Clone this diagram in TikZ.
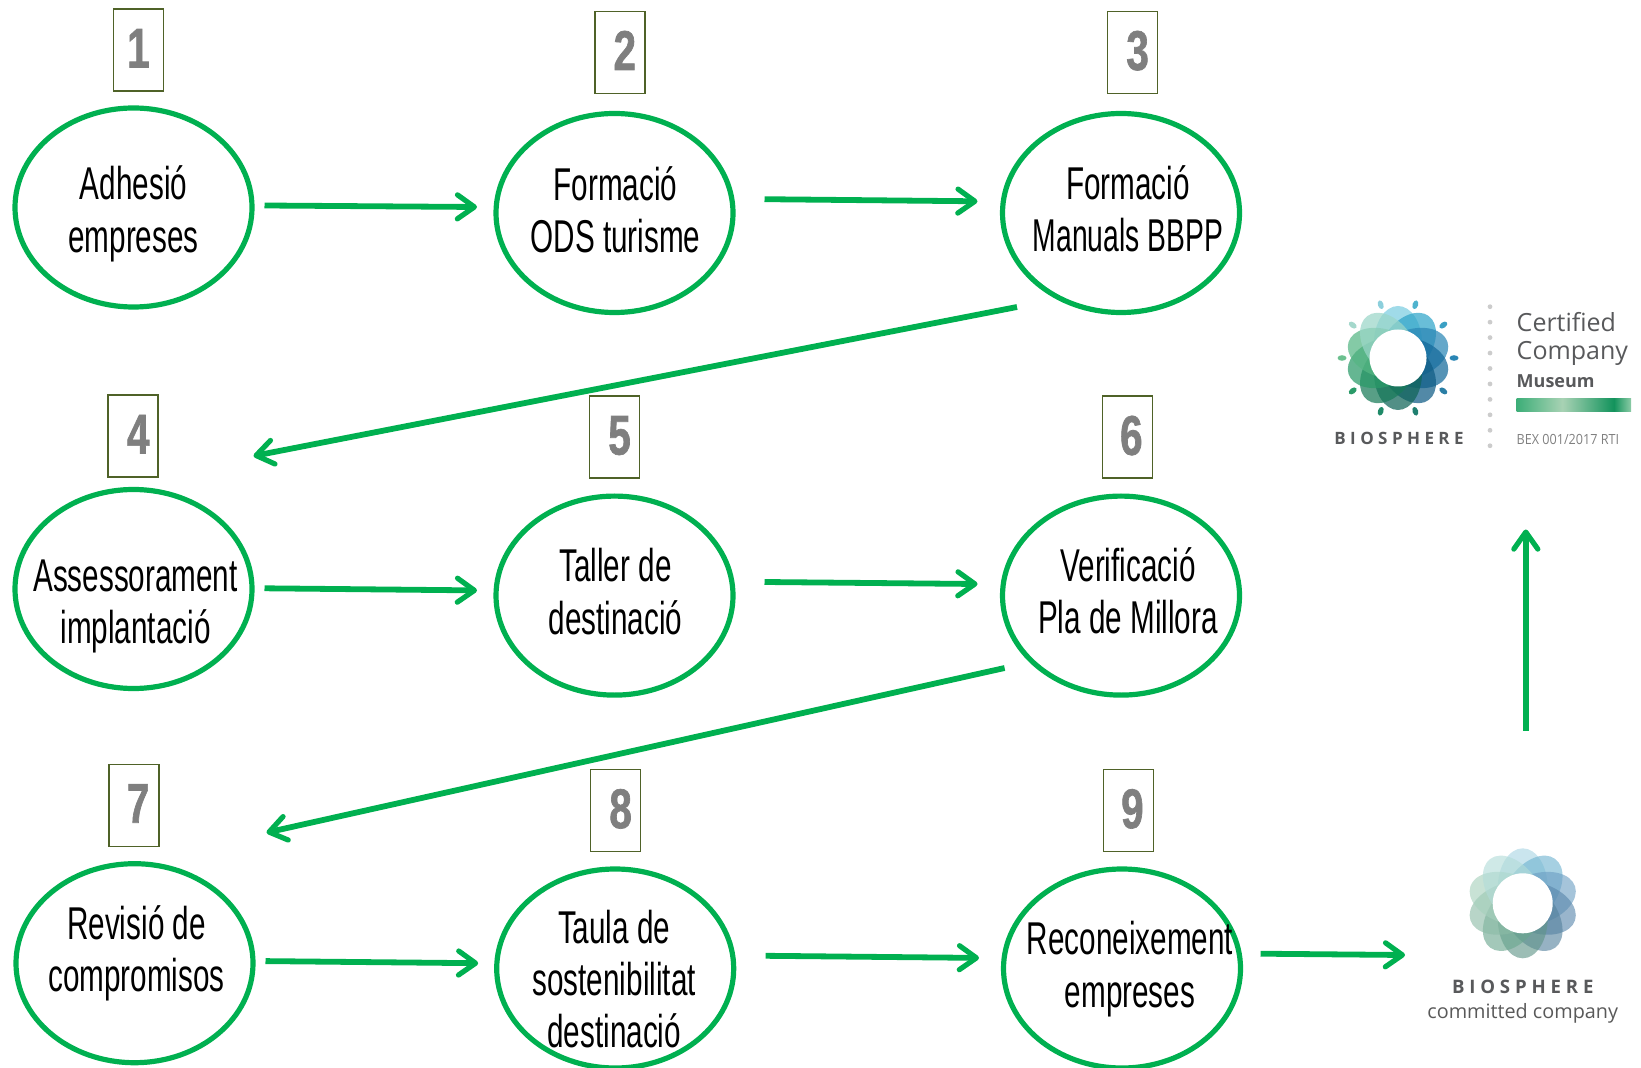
\documentclass[tikz,border=0pt]{standalone}
\usepackage{fontspec}
\usetikzlibrary{arrows.meta,shapes.geometric,calc}
\setmainfont{Liberation Sans}
\newfontfamily\condf[FakeStretch=0.645]{Liberation Sans}
\newfontfamily\manf[FakeStretch=0.615]{Liberation Sans}
\newfontfamily\digitf[FakeStretch=0.72,FakeBold=1.2]{Liberation Sans}
\newfontfamily\logof{Open Sans}
\newfontfamily\biof[LetterSpace=26]{Open Sans}
\newfontfamily\bexf[FakeStretch=0.9]{Open Sans}
\definecolor{grn}{HTML}{00B050}
\definecolor{olv}{HTML}{4F6228}
\definecolor{dgt}{HTML}{7F7F7F}
\definecolor{lgtx}{HTML}{58595B}
\definecolor{barA}{HTML}{3DAE78}
\definecolor{barB}{HTML}{A8D2B4}
\definecolor{barC}{HTML}{12935C}
\definecolor{barD}{HTML}{8CCBA6}
\pgfdeclarehorizontalshading{barg}{100bp}{color(0bp)=(barA);color(25bp)=(barA);color(45bp)=(barB);color(67.5bp)=(barC);color(75bp)=(barD);color(100bp)=(barD)}
\newcommand\tx[3]{\makebox[0pt]{\kern#1pt\raisebox{\dimexpr-#2pt/2-8.7pt\relax}[0pt][0pt]{\fontsize{23}{26.2}\selectfont\condf\color{black}\begin{tabular}{@{}c@{}}#3\end{tabular}}}}
\newcommand\dg[2]{\kern#1pt\raisebox{2pt}{#2}}
\tikzset{
  stage/.style={ellipse,draw=grn,line width=2.6pt,minimum width=118.5pt,minimum height=99.5pt,inner sep=0pt,outer sep=0pt},
  numbox/.style={rectangle,draw=olv,line width=0.8pt,minimum width=25pt,minimum height=41pt,inner sep=0pt,outer sep=0pt,text=dgt,font=\fontsize{28}{28}\selectfont\digitf\bfseries},
  flow/.style={draw=grn,line width=2.9pt,-{Straight Barb[length=8.5pt,width=12pt,line width=2.6pt,round]}},
  logotext/.style={inner sep=0pt,outer sep=0pt,anchor=base west,text=lgtx},
  logomid/.style={inner sep=0pt,outer sep=0pt,anchor=base,text=lgtx}
}
\begin{document}
\begin{tikzpicture}[x=0.5pt,y=-0.5pt]
\useasboundingbox (0,0) rectangle (1641,1068);
% stages
\node[stage] (e1) at (133.5,207.5) {\tx{0}{3}{Adhesió\\empreses}};
\node[stage] (e2) at (614.5,213) {\tx{1}{-2}{Formació\\ODS turisme}};
\node[stage] (e3) at (1121,213) {\tx{7}{-3}{Formació\\{\manf Manuals BBPP}}};
\node[stage] (e4) at (133.5,589) {\tx{2}{13}{Assessorament\\implantació}};
\node[stage] (e5) at (614.5,595.6) {\tx{1}{-3}{Taller de\\destinació}};
\node[stage] (e6) at (1121,595.6) {\tx{7}{-3.5}{Verificació\\Pla de Millora}};
\node[stage] (e7) at (134.5,963.2) {\tx{2}{-13}{Revisió de\\compromisos}};
\node[stage] (e8) at (615.2,968.5) {\tx{-1}{11.5}{Taula de\\sostenibilitat\\destinació}};
\node[stage] (e9) at (1122,968.5) {\tx{8}{-3}{Reconeixement\\empreses}};
% number boxes
\node[numbox] (n1) at (138.4,50.3) {\dg{0}{1}};
\node[numbox] (n2) at (619.8,52.4) {\dg{5}{2}};
\node[numbox] (n3) at (1132.6,52.4) {\dg{5}{3}};
\node[numbox] (n4) at (133.2,436.2) {\dg{5}{4}};
\node[numbox] (n5) at (614.5,437.3) {\dg{5}{5}};
\node[numbox] (n6) at (1127.3,437.3) {\dg{4}{6}};
\node[numbox] (n7) at (134.2,805.4) {\dg{4}{7}};
\node[numbox] (n8) at (615.6,810.6) {\dg{5}{8}};
\node[numbox] (n9) at (1128.4,810.6) {\dg{4}{9}};
% logo centres
\coordinate (logoA) at (1398,358);
\coordinate (logoB) at (1522.7,903.3);
% flows
\draw[flow] ($(e1)+(131,-2)$) -- ($(e2)+(-137.5,-6)$);
\draw[flow] ($(e2)+(150,-13.8)$) -- ($(e3)+(-143.5,-11.7)$);
\draw[flow] ($(e3)+(-104,94)$) -- ($(e4)+(120,-133)$);
\draw[flow] ($(e4)+(131,-0.7)$) -- ($(e5)+(-137.5,-5.2)$);
\draw[flow] ($(e5)+(150,-13.6)$) -- ($(e6)+(-143.5,-11.6)$);
\draw[flow] ($(e6)+(-116.4,72.4)$) -- ($(e7)+(132,-130.6)$);
\draw[flow] ($(e7)+(131,-2.1)$) -- ($(e8)+(-137,-5.3)$);
\draw[flow] ($(e8)+(150.5,-12.7)$) -- ($(e9)+(-143,-10.6)$);
\draw[flow] ($(e9)+(138.5,-14.8)$) -- ($(logoB)+(-117.7,51.7)$);
\draw[flow] ($(logoB)+(3.1,-172.4)$) -- ($(logoA)+(127.8,171.5)$);
% certified logo
\begin{scope}[shift={(logoA)},x=0.5pt,y=0.5pt]
  \foreach \a/\c in {90/7CCDE0,54/2FA5C9,18/2A86B5,-18/14699A,-54/0F5C85,-90/0F6458,-126/177A58,-162/2A9A68,162/55B683,126/9AD6C8}{
    \definecolor{pet}{HTML}{\c}
    \fill[pet,opacity=.72,rotate=\a] (15,0) ellipse [x radius=37,y radius=24];
  }
  \fill[white] (0,0) circle (28.5);
  \foreach \a/\c in {108/8CCFDC,72/4FB3CE,36/3AA0C4,0/2A86B5,-36/2A7EA5,-72/1F7F70,-108/1F8A68,-144/2A9A68,180/6CC08F,144/A5D8CC}{
    \definecolor{pet}{HTML}{\c}
    \fill[pet,rotate=\a] (56,0) ellipse [x radius=4.5,y radius=2.8];
  }
\end{scope}
\foreach \i in {0,...,9}{
  \fill[black!20] (1490,306.7+15.45*\i) circle [radius=2.4];
}
\node[logotext,font=\logof\fontsize{12.5}{12.5}\selectfont] (lc1) at (1516.7,331.7) {Certified};
\node[logotext,font=\logof\fontsize{12.5}{12.5}\selectfont] (lc2) at (1516.7,360) {Company};
\node[logotext,font=\logof\bfseries\fontsize{9}{9}\selectfont] (lc3) at (1516.7,387.7) {Museum};
\shade[shading=barg] (1516.7,398.5) rectangle (1631,412);
\node[logotext,font=\bexf\fontsize{7}{7}\selectfont,text=black!50] (lc4) at (1516.7,445) {BEX 001/2017 RTI};
\node[logomid,font=\biof\bfseries\fontsize{8.5}{8.5}\selectfont] (lc5) at (1399,445) {BIOSPHERE};
% committed logo
\begin{scope}[shift={(logoB)},x=0.5pt,y=0.5pt]
  \foreach \a/\c in {90/A9D5E4,54/6FB3D0,18/6D9FC4,-18/5A88AC,-54/56829E,-90/5F9488,-126/6AA68E,-162/8CBBA6,162/A6D0BC,126/B2DCD8}{
    \definecolor{pet}{HTML}{\c}
    \fill[pet,opacity=.62,rotate=\a] (15,0) ellipse [x radius=40,y radius=25];
  }
  \fill[white] (0,0) circle (30);
\end{scope}
\node[logomid,font=\biof\bfseries\fontsize{9.3}{9.3}\selectfont] (lb1) at (1522.7,993) {BIOSPHERE};
\node[logomid,font=\logof\fontsize{9.9}{9.9}\selectfont,text=black!65] (lb2) at (1522.7,1018) {committed company};
\end{tikzpicture}
\end{document}
